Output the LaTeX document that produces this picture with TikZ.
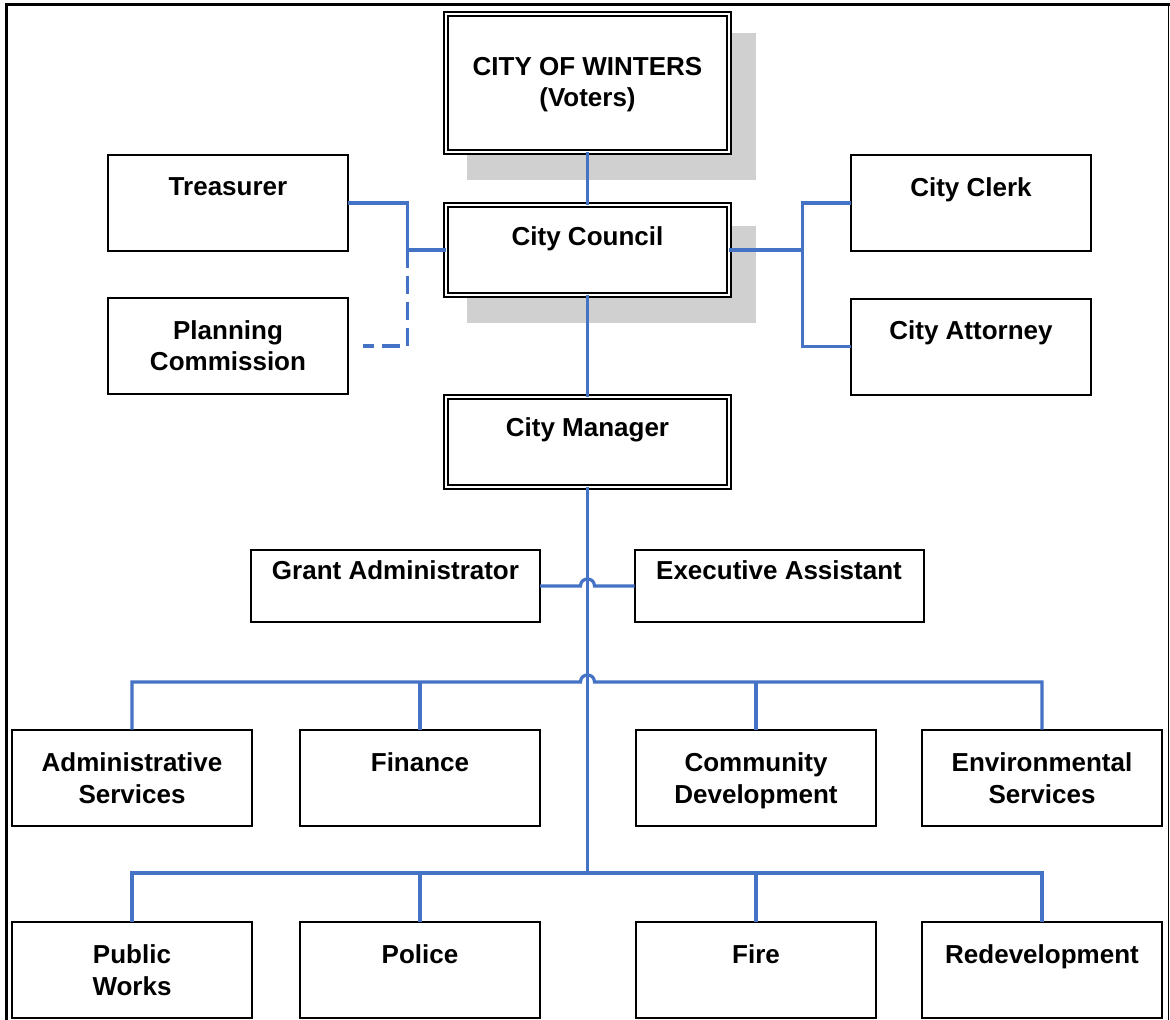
\documentclass[tikz,border=0pt]{standalone}
\usepackage{fontspec}
\setmainfont{Liberation Sans}
\usetikzlibrary{calc}
\definecolor{lineblue}{RGB}{68,114,196}
\definecolor{shadowgray}{RGB}{208,208,208}
\pgfdeclarelayer{bg}
\pgfsetlayers{bg,main}
\begin{document}
\begin{tikzpicture}[x=1pt,y=-1pt,
 box/.style={draw=black, line width=2pt, fill=white, rectangle, inner sep=0pt, outer sep=0pt, minimum width=240pt, minimum height=96pt},
 wbox/.style={box, minimum width=289pt, minimum height=72pt},
 dbox/.style={draw=black, line width=1.6pt, double=white, double distance=2.5pt, fill=white, rectangle, inner sep=0pt, outer sep=0pt, minimum width=283pt, minimum height=90.3pt},
 lbl/.style={font=\bfseries\fontsize{26}{31.5}\selectfont, align=center, inner sep=0pt, anchor=north},
 conn/.style={draw=lineblue, line width=3.2pt},
 dashconn/.style={conn, dash pattern=on 18pt off 8pt},
 shadowbox/.style={fill=shadowgray}
]
\useasboundingbox (0,0) rectangle (1170,1020);
% frame
\draw[line width=3pt] (6,1020) -- (6,4.5) -- (1170,4.5);
\draw[line width=1pt] (1168,4.5) -- (1168,1020);

% top column
\node[dbox, minimum height=138.3pt] (top) at (587.5,83) {};
\node[dbox] (council) at (587.5,250) {};
\node[dbox] (mgr) at (587.5,442) {};
\begin{pgfonlayer}{bg}
\fill[shadowbox] ([shift={(21,19)}]top.north west) rectangle ([shift={(27,28)}]top.south east);
\fill[shadowbox] ([shift={(21,21)}]council.north west) rectangle ([shift={(27,28)}]council.south east);
\end{pgfonlayer}
\node[lbl] (top-t) at ([yshift=-43pt]top.north) {CITY OF WINTERS\\(Voters)};
\node[lbl] (council-t) at ([yshift=-22pt]council.north) {City Council};
\node[lbl] (mgr-t) at ([yshift=-21pt]mgr.north) {City Manager};

% side boxes
\node[box] (treas) at (228,203) {};
\node[box] (pc) at (228,346) {};
\node[box] (clerk) at (971,203) {};
\node[box] (atty) at (971,346.5) {};
\node[lbl] (treas-t) at ([yshift=-22pt]treas.north) {Treasurer};
\node[lbl] (pc-t) at ([yshift=-22pt]pc.north) {Planning\\Commission};
\node[lbl] (clerk-t) at ([yshift=-22pt]clerk.north) {City Clerk};
\node[lbl] (atty-t) at ([yshift=-22pt]atty.north) {City Attorney};

% staff
\node[wbox] (ga) at (395.5,586) {};
\node[wbox] (ea) at (779,586) {};
\node[lbl] (ga-t) at ([yshift=-10pt]ga.north) {Grant Administrator};
\node[lbl] (ea-t) at ([yshift=-10pt]ea.north) {Executive Assistant};

% departments row 1
\node[box] (admin) at (132,777.5) {};
\node[box] (fin) at (420,777.5) {};
\node[box] (cd) at (756,777.5) {};
\node[box] (es) at (1042,777.5) {};
\node[lbl] (admin-t) at ([yshift=-23pt]admin.north) {Administrative\\Services};
\node[lbl] (fin-t) at ([yshift=-23pt]fin.north) {Finance};
\node[lbl] (cd-t) at ([yshift=-23pt]cd.north) {Community\\Development};
\node[lbl] (es-t) at ([yshift=-23pt]es.north) {Environmental\\Services};

% departments row 2
\node[box] (pw) at (132,969.5) {};
\node[box] (police) at (420,969.5) {};
\node[box] (fire) at (756,969.5) {};
\node[box] (redev) at (1042,969.5) {};
\node[lbl] (pw-t) at ([yshift=-23pt]pw.north) {Public\\Works};
\node[lbl] (police-t) at ([yshift=-23pt]police.north) {Police};
\node[lbl] (fire-t) at ([yshift=-23pt]fire.north) {Fire};
\node[lbl] (redev-t) at ([yshift=-23pt]redev.north) {Redevelopment};

% junction coordinates
\coordinate (jl) at (407.5,250);
\coordinate (jr) at (802.7,250);
\coordinate (pcend) at ([xshift=15pt]pc.east);
\coordinate (hop0) at (mgr.south |- ga.east);
\coordinate (bus1) at (587.5,682);
\coordinate (bus2) at (587.5,873);

% connectors
\draw[conn] (top) -- (council);
\draw[conn] (council) -- (mgr);
\draw[conn] (mgr) -- (bus2);
\draw[conn] (treas.east) -| (jl) -- (council.west);
\draw[dashconn] (jl) |- (pcend);
\draw[conn] (council.east) -- (jr);
\draw[conn] (clerk.west) -| (jr) |- (atty.west);
\draw[conn] (ga.east) -- ([xshift=-7pt]hop0) .. controls +(0,-9.33) and +(0,-9.33) .. ++(14,0) -- (ea.west);
\draw[conn] (admin.north) |- ([xshift=-7pt]bus1) .. controls +(0,-9.33) and +(0,-9.33) .. ++(14,0) -| (es.north);
\draw[conn] (fin.north) -- (fin.north |- bus1);
\draw[conn] (cd.north) -- (cd.north |- bus1);
\draw[conn] (pw.north) |- (bus2) -| (redev.north);
\draw[conn] (police.north) -- (police.north |- bus2);
\draw[conn] (fire.north) -- (fire.north |- bus2);
\end{tikzpicture}
\end{document}
